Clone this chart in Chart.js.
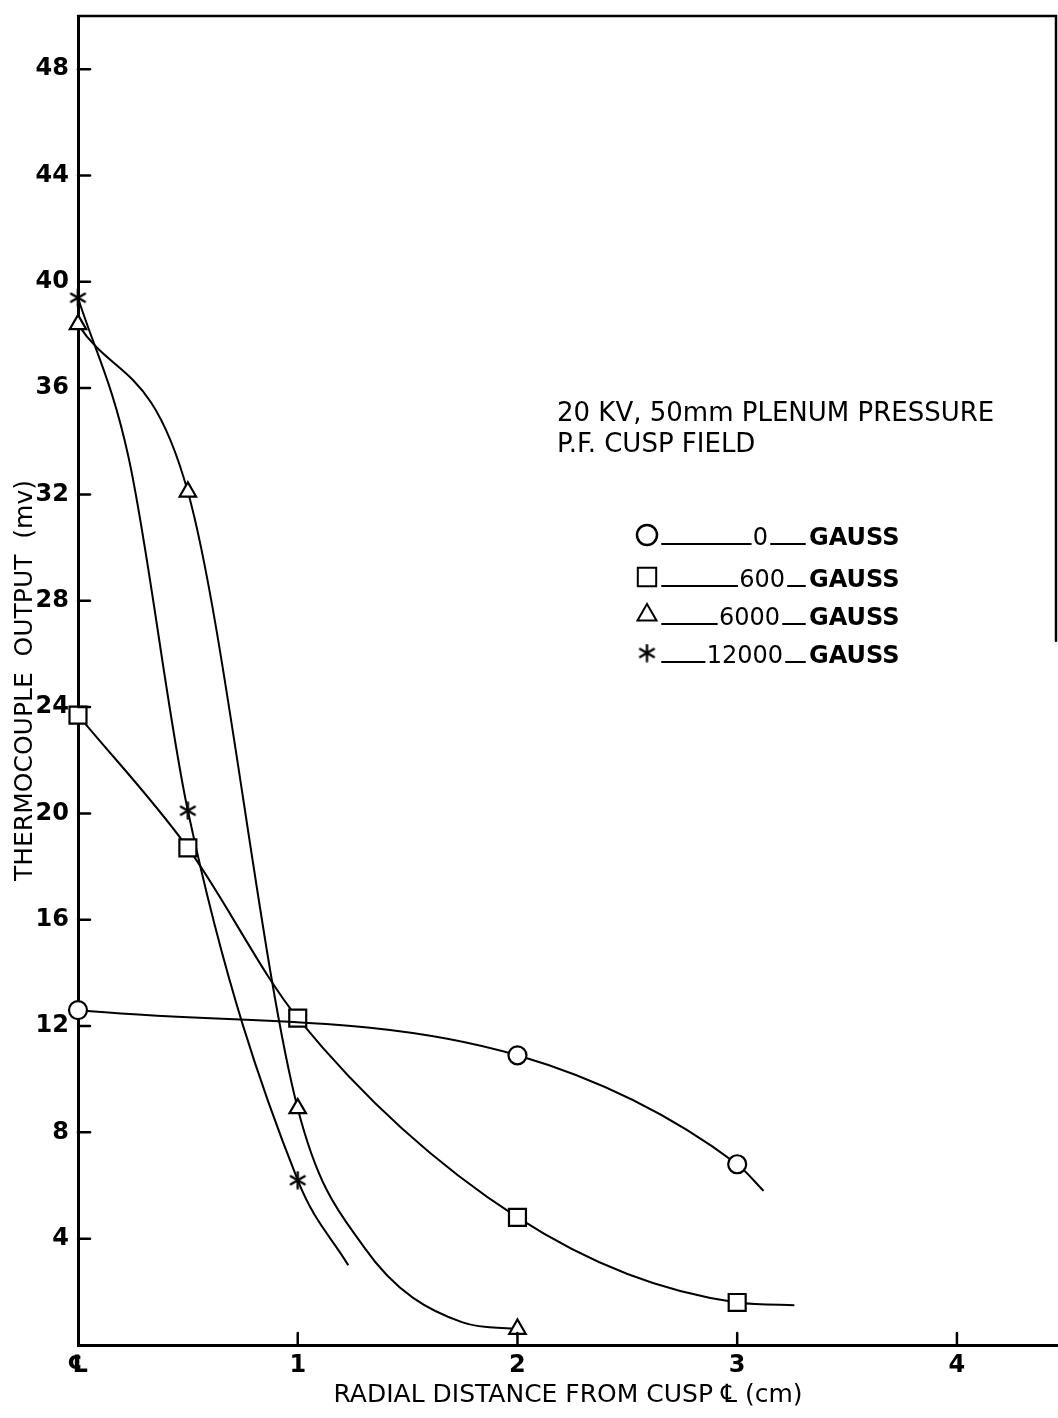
<!DOCTYPE html>
<html>
<head>
<meta charset="utf-8">
<script src="https://cdn.jsdelivr.net/npm/chart.js@4.4.0/dist/chart.umd.min.js"></script>
<style>
  html, body { margin: 0; padding: 0; background: #fff; overflow: hidden; }
  #wrap { width: 1058px; height: 1418px; }
  canvas { display: block; }
</style>
</head>
<body>
<div id="wrap"><canvas id="myChart"></canvas></div>
<script>
// radial distance (cm) and thermocouple output (mv)
// mark = 1 where a symbol is plotted, 0 where the point only traces the hand-drawn curve
let dist0 = [0, 2, 3, 3.12];
let out0 = [12.6, 10.9, 6.8, 5.8];
let mark0 = [1, 1, 1, 0];

let dist600 = [0, 0.5, 1, 2, 3, 3.26];
let out600 = [23.7, 18.7, 12.3, 4.8, 1.6, 1.5];
let mark600 = [1, 1, 1, 1, 1, 0];

let dist6000 = [0, 0.5, 1, 1.3, 1.75, 2];
let out6000 = [38.4, 32.1, 8.9, 3.7, 0.85, 0.6];
let mark6000 = [1, 1, 1, 0, 0, 1];

let dist12000 = [0, 0.23, 0.5, 1, 1.23];
let out12000 = [39.4, 33.4, 20.1, 6.2, 3.0];
let mark12000 = [1, 0, 1, 1, 0];

let gaussLabels = ['0', '600', '6000', '12000'];
let yTicks = [4, 8, 12, 16, 20, 24, 28, 32, 36, 40, 44, 48];
let xTicks = [1, 2, 3, 4];
let noteLines = ['20 KV, 50mm PLENUM PRESSURE', 'P.F. CUSP FIELD'];

const FONT = 'DejaVu Sans';

// six-armed asterisk like the hand-drawn one
function asterisk(size) {
  const c = document.createElement('canvas');
  c.width = size; c.height = size;
  const g = c.getContext('2d');
  const m = size / 2, r = size / 2 - 1.5;
  g.strokeStyle = '#000';
  g.lineWidth = 2.4;
  g.lineCap = 'round';
  [90, 30, 150].forEach(a => {
    const dx = Math.cos(a * Math.PI / 180) * r, dy = Math.sin(a * Math.PI / 180) * r;
    g.beginPath();
    g.moveTo(m - dx, m - dy);
    g.lineTo(m + dx, m + dy);
    g.stroke();
  });
  return c;
}

let styles = ['circle', 'rect', 'triangle', asterisk(19)];
let sizes = [9, 12, 9.5, 9];
let legendSizes = [10, 13, 11, 10];

function series(i, xs, ys, marks) {
  const r = marks.map(m => m ? sizes[i] : 0);
  return {
    label: gaussLabels[i] + ' GAUSS',
    data: xs.map((x, k) => ({ x: x, y: ys[k] })),
    showLine: true,
    clip: false,
    borderColor: '#000',
    borderWidth: 2,
    backgroundColor: '#fff',
    pointBorderColor: '#000',
    pointBackgroundColor: '#fff',
    pointBorderWidth: 2.2,
    pointStyle: styles[i],
    pointRadius: r,
    pointHoverRadius: r,
    cubicInterpolationMode: 'monotone'
  };
}

function noPadding(scale) {
  scale.paddingTop = 0;
  scale.paddingBottom = 0;
  scale.paddingLeft = 0;
  scale.paddingRight = 0;
}

const framePlugin = {
  id: 'frame',
  afterDraw(chart) {
    const ctx = chart.ctx;
    const area = chart.chartArea;
    const xs = chart.scales.x, ys = chart.scales.y;
    ctx.save();
    ctx.strokeStyle = '#000';
    ctx.lineCap = 'round';

    // top border and the partial right border
    ctx.lineWidth = 2.5;
    ctx.beginPath();
    ctx.moveTo(area.left, area.top);
    ctx.lineTo(area.right - 2, area.top);
    ctx.lineTo(area.right - 2, ys.getPixelForValue(26.5));
    ctx.stroke();

    // ticks point into the plot
    yTicks.forEach(v => {
      const py = ys.getPixelForValue(v);
      ctx.beginPath();
      ctx.moveTo(area.left, py);
      ctx.lineTo(area.left + 12, py);
      ctx.stroke();
    });
    xTicks.forEach(v => {
      const px = xs.getPixelForValue(v);
      ctx.beginPath();
      ctx.moveTo(px, area.bottom);
      ctx.lineTo(px, area.bottom - 12);
      ctx.stroke();
    });

    // note
    ctx.fillStyle = '#000';
    ctx.textBaseline = 'alphabetic';
    ctx.textAlign = 'left';
    ctx.font = '26px "' + FONT + '"';
    ctx.fillText(noteLines[0], 557, 421);
    ctx.fillText(noteLines[1], 557, 452);

    // legend rows
    const rowY = [535, 577, 615, 653];
    const numEnd = [768, 785, 780, 783];
    rowY.forEach((y, i) => {
      ctx.fillStyle = '#fff';
      ctx.strokeStyle = '#000';
      Chart.helpers.drawPoint(ctx, {
        pointStyle: styles[i],
        radius: legendSizes[i],
        borderWidth: 2.2
      }, 647, y);
      ctx.fillStyle = '#000';
      ctx.lineWidth = 2;
      ctx.font = '24px "' + FONT + '"';
      const w = ctx.measureText(gaussLabels[i]).width;
      ctx.beginPath();
      ctx.moveTo(662, y + 9);
      ctx.lineTo(numEnd[i] - w - 2, y + 9);
      ctx.stroke();
      ctx.textAlign = 'right';
      ctx.fillText(gaussLabels[i], numEnd[i], y + 10);
      ctx.beginPath();
      ctx.moveTo(numEnd[i] + 3, y + 9);
      ctx.lineTo(805, y + 9);
      ctx.stroke();
      ctx.font = 'bold 24px "' + FONT + '"';
      ctx.textAlign = 'left';
      ctx.fillText('GAUSS', 809, y + 10);
    });
    ctx.restore();
  }
};

let ctx = document.getElementById('myChart').getContext('2d');

let myChart = new Chart(ctx, {
  type: 'scatter',
  data: {
    datasets: [
      series(0, dist0, out0, mark0),
      series(1, dist600, out600, mark600),
      series(2, dist6000, out6000, mark6000),
      series(3, dist12000, out12000, mark12000)
    ]
  },
  options: {
    responsive: true,
    maintainAspectRatio: false,
    animation: false,
    events: [],
    layout: { autoPadding: false, padding: { top: 16, right: 0, left: 0, bottom: 0 } },
    plugins: {
      legend: { display: false },
      tooltip: { enabled: false }
    },
    scales: {
      x: {
        type: 'linear',
        min: 0,
        max: 4.46,
        afterFit: (scale) => { scale.height = 73; noPadding(scale); },
        afterBuildTicks: (scale) => {
          scale.ticks = [0].concat(xTicks).map(v => ({ value: v }));
        },
        grid: { display: false, drawTicks: false },
        border: { display: true, color: '#000', width: 3 },
        ticks: {
          padding: 6,
          color: '#000',
          maxRotation: 0,
          font: { family: FONT, size: 24, weight: 'bold' },
          callback: (v) => v === 0 ? '\u2104' : String(v)
        },
        title: {
          display: true,
          text: 'RADIAL DISTANCE FROM CUSP \u2104 (cm)',
          color: '#000',
          padding: { top: 0, bottom: 8 },
          font: { family: FONT, size: 25 }
        }
      },
      y: {
        type: 'linear',
        min: 0,
        max: 50,
        afterFit: (scale) => { scale.width = 78; noPadding(scale); },
        afterBuildTicks: (scale) => {
          scale.ticks = yTicks.map(v => ({ value: v }));
        },
        grid: { display: false, drawTicks: false },
        border: { display: true, color: '#000', width: 3 },
        ticks: {
          padding: 9,
          color: '#000',
          font: { family: FONT, size: 24, weight: 'bold' }
        },
        title: {
          display: true,
          text: 'THERMOCOUPLE  OUTPUT  (mv)',
          color: '#000',
          padding: { top: 10, bottom: 0 },
          font: { family: FONT, size: 25 }
        }
      }
    }
  },
  plugins: [framePlugin]
});
</script>
</body>
</html>
